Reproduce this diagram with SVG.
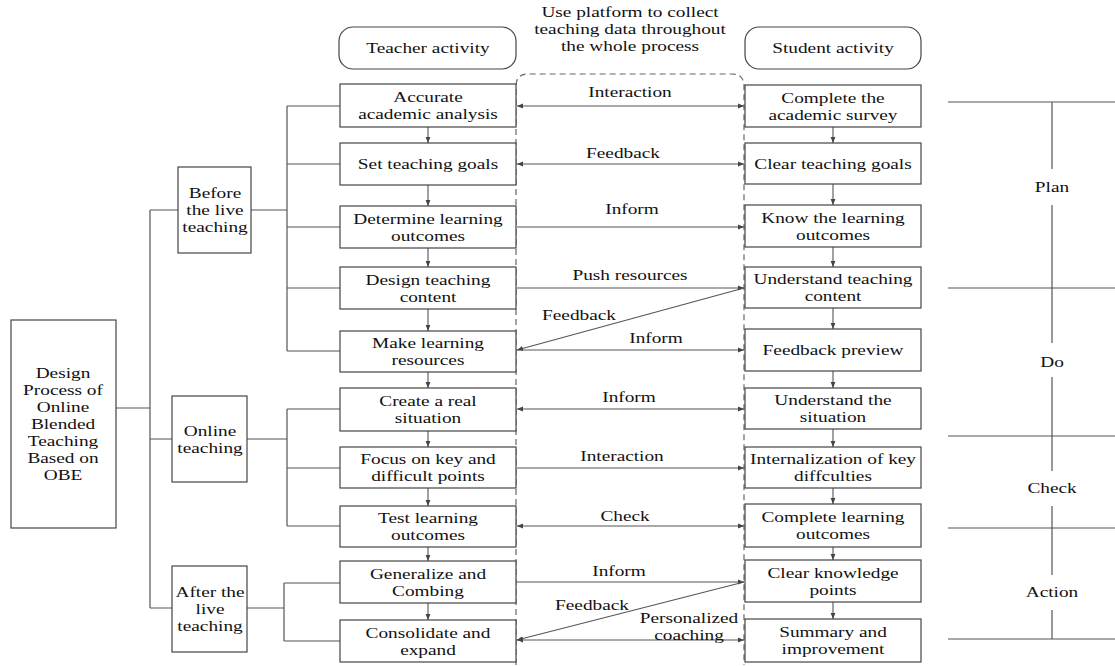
<svg xmlns="http://www.w3.org/2000/svg" width="1115" height="666" viewBox="0 0 1115 666">
<defs>
<marker id="ah" viewBox="0 0 10 10" refX="10" refY="5" markerWidth="6" markerHeight="6" orient="auto-start-reverse" markerUnits="userSpaceOnUse">
<path d="M0,1 L10,5 L0,9 Z" fill="#444"/>
</marker>
<style>
text{font-family:"Liberation Serif","Times New Roman",serif;font-size:15px;fill:#111;text-anchor:middle}
.box{fill:#fff;stroke:#444;stroke-width:1.2}
.ln{fill:none;stroke:#555;stroke-width:1.2}
.ar{fill:none;stroke:#555;stroke-width:1.1;marker-end:url(#ah)}
.ar2{fill:none;stroke:#555;stroke-width:1.1;marker-end:url(#ah);marker-start:url(#ah)}
.dash{fill:none;stroke:#666;stroke-width:1.2;stroke-dasharray:6,4}
</style>
</defs>
<rect width="1115" height="666" fill="#fff"/>

<g id="platform">
<path class="dash" d="M516,665 L516,86 Q516,74 528,74 L732,74 Q744,74 744,86 L744,665"/>
<text transform="translate(630 17) scale(1.287 1)">Use platform to collect</text>
<text transform="translate(630 34) scale(1.287 1)">teaching data throughout</text>
<text transform="translate(630 51) scale(1.287 1)">the whole process</text>
</g>

<g id="connectors">
<path class="ln" d="M116,408 H150 M150,210 V608 M150,210 H178 M150,439 H172 M150,608 H172"/>
<path class="ln" d="M251,210 H287 M287,106 V351 M287,106 H340 M287,164 H340 M287,227 H340 M287,288 H340 M287,351 H340"/>
<path class="ln" d="M247,439 H287 M287,409 V526 M287,409 H340 M287,468 H340 M287,526 H340"/>
<path class="ln" d="M247,608 H284 M284,583 V641 M284,583 H340 M284,641 H340"/>
<path class="ar" d="M428,127 V143"/>
<path class="ar" d="M428,185 V206"/>
<path class="ar" d="M428,248 V267"/>
<path class="ar" d="M428,309 V331"/>
<path class="ar" d="M428,372 V388"/>
<path class="ar" d="M428,431 V447"/>
<path class="ar" d="M428,488 V506"/>
<path class="ar" d="M428,547 V561"/>
<path class="ar" d="M428,603 V620"/>
<path class="ar" d="M833,127 V143"/>
<path class="ar" d="M833,184 V205"/>
<path class="ar" d="M833,247 V267"/>
<path class="ar" d="M833,308 V329"/>
<path class="ar" d="M833,371 V388"/>
<path class="ar" d="M833,429 V447"/>
<path class="ar" d="M833,488 V504"/>
<path class="ar" d="M833,547 V560"/>
<path class="ar" d="M833,602 V619"/>
<path class="ar2" d="M517,106 H744"/>
<path class="ar2" d="M517,164 H744"/>
<path class="ar" d="M517,227 H744"/>
<path class="ar" d="M517,288 H744"/>
<path class="ar" d="M744,288 L517,350"/>
<path class="ar" d="M517,350 H744"/>
<path class="ar2" d="M517,409 H744"/>
<path class="ar" d="M517,468 H744"/>
<path class="ar2" d="M517,526 H744"/>
<path class="ar" d="M517,582 H744"/>
<path class="ar" d="M744,582 L517,640"/>
<path class="ar2" d="M517,640 H744"/>
<text transform="translate(630 97) scale(1.287 1)">Interaction</text>
<text transform="translate(623 158) scale(1.287 1)">Feedback</text>
<text transform="translate(632 214) scale(1.287 1)">Inform</text>
<text transform="translate(630 280) scale(1.287 1)">Push resources</text>
<text transform="translate(579 320) scale(1.287 1)">Feedback</text>
<text transform="translate(656 343) scale(1.287 1)">Inform</text>
<text transform="translate(629 402) scale(1.287 1)">Inform</text>
<text transform="translate(622 461) scale(1.287 1)">Interaction</text>
<text transform="translate(625 521) scale(1.287 1)">Check</text>
<text transform="translate(619 576) scale(1.287 1)">Inform</text>
<text transform="translate(592 610) scale(1.287 1)">Feedback</text>
<text transform="translate(689 623) scale(1.287 1)">Personalized</text>
<text transform="translate(689 640) scale(1.287 1)">coaching</text>
</g>

<g id="main"><rect class="box" x="11" y="320" width="105" height="208"/>
<text transform="translate(63 378) scale(1.287 1)">Design</text>
<text transform="translate(63 395) scale(1.287 1)">Process of</text>
<text transform="translate(63 412) scale(1.287 1)">Online</text>
<text transform="translate(63 429) scale(1.287 1)">Blended</text>
<text transform="translate(63 446) scale(1.287 1)">Teaching</text>
<text transform="translate(63 463) scale(1.287 1)">Based on</text>
<text transform="translate(63 480) scale(1.287 1)">OBE</text></g>

<g id="before"><rect class="box" x="178" y="167" width="73" height="86"/>
<text transform="translate(215 198) scale(1.287 1)">Before</text>
<text transform="translate(215 215) scale(1.287 1)">the live</text>
<text transform="translate(215 232) scale(1.287 1)">teaching</text></g>
<g id="online"><rect class="box" x="172" y="396" width="75" height="86"/>
<text transform="translate(210 435.5) scale(1.287 1)">Online</text>
<text transform="translate(210 452.5) scale(1.287 1)">teaching</text></g>
<g id="after"><rect class="box" x="172" y="566" width="75" height="86"/>
<text transform="translate(210 597) scale(1.287 1)">After the</text>
<text transform="translate(210 614) scale(1.287 1)">live</text>
<text transform="translate(210 631) scale(1.287 1)">teaching</text></g>

<g id="teacher-head"><rect class="box" x="339" y="27" width="177" height="42" rx="14"/><text transform="translate(428 53) scale(1.287 1)">Teacher activity</text></g>
<g id="student-head"><rect class="box" x="745" y="27" width="176" height="42" rx="14"/><text transform="translate(833 53) scale(1.287 1)">Student activity</text></g>

<g id="t1"><rect class="box" x="340" y="84" width="176" height="43"/><text transform="translate(428 102) scale(1.287 1)">Accurate</text><text transform="translate(428 119) scale(1.287 1)">academic analysis</text></g>
<g id="t2"><rect class="box" x="340" y="143" width="176" height="42"/><text transform="translate(428 169) scale(1.287 1)">Set teaching goals</text></g>
<g id="t3"><rect class="box" x="340" y="206" width="176" height="42"/><text transform="translate(428 223.5) scale(1.287 1)">Determine learning</text><text transform="translate(428 240.5) scale(1.287 1)">outcomes</text></g>
<g id="t4"><rect class="box" x="340" y="267" width="176" height="42"/><text transform="translate(428 284.5) scale(1.287 1)">Design teaching</text><text transform="translate(428 301.5) scale(1.287 1)">content</text></g>
<g id="t5"><rect class="box" x="340" y="331" width="176" height="41"/><text transform="translate(428 348) scale(1.287 1)">Make learning</text><text transform="translate(428 365) scale(1.287 1)">resources</text></g>
<g id="t6"><rect class="box" x="340" y="388" width="176" height="43"/><text transform="translate(428 406) scale(1.287 1)">Create a real</text><text transform="translate(428 423) scale(1.287 1)">situation</text></g>
<g id="t7"><rect class="box" x="340" y="447" width="176" height="41"/><text transform="translate(428 464) scale(1.287 1)">Focus on key and</text><text transform="translate(428 481) scale(1.287 1)">difficult points</text></g>
<g id="t8"><rect class="box" x="340" y="506" width="176" height="41"/><text transform="translate(428 523) scale(1.287 1)">Test learning</text><text transform="translate(428 540) scale(1.287 1)">outcomes</text></g>
<g id="t9"><rect class="box" x="340" y="561" width="176" height="42"/><text transform="translate(428 578.5) scale(1.287 1)">Generalize and</text><text transform="translate(428 595.5) scale(1.287 1)">Combing</text></g>
<g id="t10"><rect class="box" x="340" y="620" width="176" height="42"/><text transform="translate(428 637.5) scale(1.287 1)">Consolidate and</text><text transform="translate(428 654.5) scale(1.287 1)">expand</text></g>

<g id="s1"><rect class="box" x="745" y="85" width="176" height="42"/><text transform="translate(833 102.5) scale(1.287 1)">Complete the</text><text transform="translate(833 119.5) scale(1.287 1)">academic survey</text></g>
<g id="s2"><rect class="box" x="745" y="143" width="176" height="41"/><text transform="translate(833 168.5) scale(1.287 1)">Clear teaching goals</text></g>
<g id="s3"><rect class="box" x="745" y="205" width="176" height="42"/><text transform="translate(833 222.5) scale(1.287 1)">Know the learning</text><text transform="translate(833 239.5) scale(1.287 1)">outcomes</text></g>
<g id="s4"><rect class="box" x="745" y="267" width="176" height="41"/><text transform="translate(833 284) scale(1.287 1)">Understand teaching</text><text transform="translate(833 301) scale(1.287 1)">content</text></g>
<g id="s5"><rect class="box" x="745" y="329" width="176" height="42"/><text transform="translate(833 355) scale(1.287 1)">Feedback preview</text></g>
<g id="s6"><rect class="box" x="745" y="388" width="176" height="41"/><text transform="translate(833 405) scale(1.287 1)">Understand the</text><text transform="translate(833 422) scale(1.287 1)">situation</text></g>
<g id="s7"><rect class="box" x="745" y="447" width="176" height="41"/><text transform="translate(833 464) scale(1.287 1)">Internalization of key</text><text transform="translate(833 481) scale(1.287 1)">diffculties</text></g>
<g id="s8"><rect class="box" x="745" y="504" width="176" height="43"/><text transform="translate(833 522) scale(1.287 1)">Complete learning</text><text transform="translate(833 539) scale(1.287 1)">outcomes</text></g>
<g id="s9"><rect class="box" x="745" y="560" width="176" height="42"/><text transform="translate(833 577.5) scale(1.287 1)">Clear knowledge</text><text transform="translate(833 594.5) scale(1.287 1)">points</text></g>
<g id="s10"><rect class="box" x="745" y="619" width="176" height="43"/><text transform="translate(833 637) scale(1.287 1)">Summary and</text><text transform="translate(833 654) scale(1.287 1)">improvement</text></g>

<g id="pdca">
<path class="ln" d="M948,102 H1115 M948,288 H1115 M948,436 H1115 M948,528 H1115 M948,639 H1115"/>
<path class="ln" d="M1052,102 V169 M1052,205 V343 M1052,377 V471 M1052,506 V575 M1052,610 V639"/>
<text transform="translate(1052 192) scale(1.287 1)">Plan</text>
<text transform="translate(1052 367) scale(1.287 1)">Do</text>
<text transform="translate(1052 493) scale(1.287 1)">Check</text>
<text transform="translate(1052 597) scale(1.287 1)">Action</text>
</g>
</svg>
